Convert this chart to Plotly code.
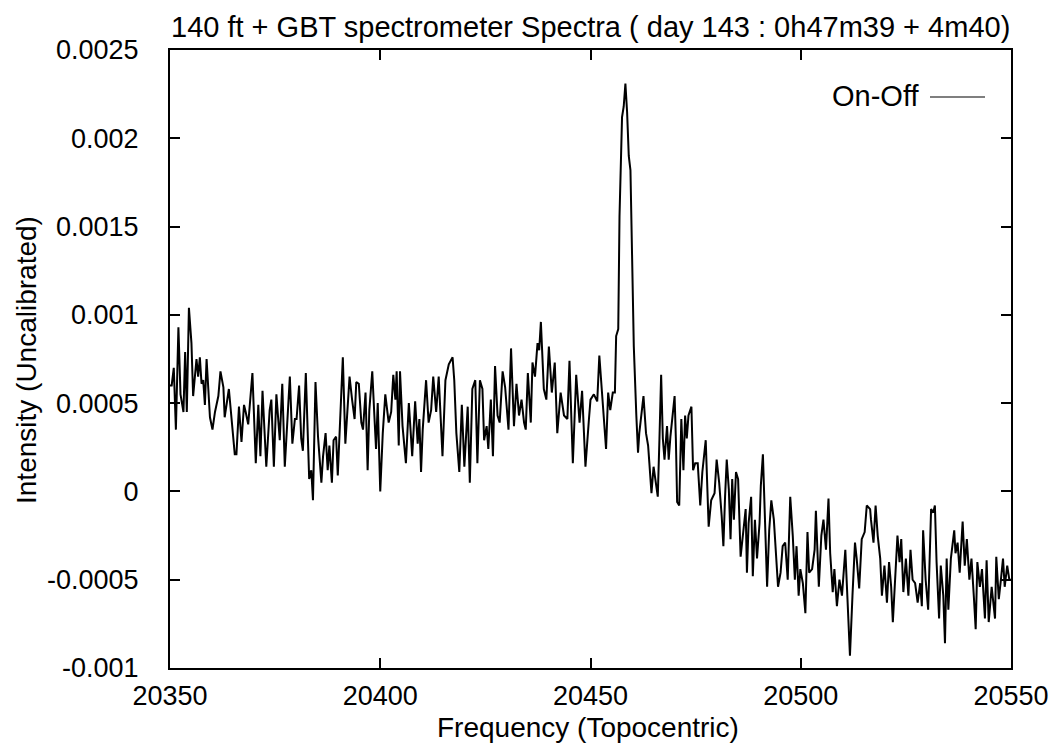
import plotly.graph_objects as go

# Channel frequencies (MHz, topocentric) and On-Off intensity (units of 1e-4)
frequency_mhz = [
    20350.0, 20350.4, 20350.9, 20351.4, 20352.0, 20352.5, 20353.2, 20353.6, 20354.0, 20354.5,
    20355.1, 20355.5, 20356.3, 20356.7, 20357.1, 20357.5, 20357.9, 20358.3, 20358.7, 20359.5,
    20360.1, 20360.7, 20361.5, 20362.0, 20362.7, 20363.0, 20364.0, 20364.6, 20365.4, 20365.8,
    20366.4, 20367.0, 20367.6, 20368.0, 20368.6, 20369.6, 20370.4, 20371.0, 20371.5, 20372.0,
    20372.9, 20373.7, 20374.1, 20374.7, 20375.3, 20376.1, 20376.7, 20377.3, 20378.5, 20379.1,
    20379.7, 20380.1, 20380.7, 20381.2, 20381.6, 20382.3, 20383.1,
    20383.6, 20384.0, 20384.6, 20385.2, 20386.0, 20386.4, 20387.0, 20387.5, 20387.9, 20388.5,
    20388.9, 20389.5, 20389.9, 20390.5, 20391.1, 20391.7, 20392.7, 20393.3, 20393.9, 20394.3,
    20394.9, 20395.5, 20395.9, 20396.5, 20397.0, 20397.4, 20398.1, 20398.6, 20399.0, 20399.4,
    20400.0, 20400.6, 20401.2, 20402.0, 20402.6, 20403.1, 20403.6, 20403.9, 20404.4, 20404.7,
    20405.3, 20406.1, 20406.8, 20407.6, 20408.3, 20408.9, 20409.3, 20409.7, 20410.1, 20410.9,
    20411.5, 20412.1, 20412.6, 20413.3, 20413.9, 20414.8, 20415.5, 20416.3,
    20417.2, 20417.6, 20418.1, 20418.8, 20419.4, 20420.0, 20420.8, 20421.3, 20421.9, 20422.6,
    20423.1, 20423.7, 20424.3, 20424.7, 20425.3, 20425.7, 20426.3, 20426.8, 20427.3, 20427.9,
    20428.4, 20429.1, 20429.7, 20430.5, 20431.1, 20431.8, 20432.4, 20433.0, 20433.6, 20434.2,
    20434.6, 20435.1, 20435.8, 20436.2, 20436.8, 20437.4, 20437.8, 20438.2, 20438.5, 20438.9,
    20439.5, 20440.1, 20440.8, 20441.5, 20442.1, 20442.9, 20443.7, 20444.5, 20445.0, 20445.8,
    20446.6, 20447.4, 20448.0, 20448.8, 20449.6,
    20450.0, 20450.8, 20451.6, 20452.1, 20452.6, 20453.2, 20453.7, 20454.2, 20454.7, 20455.3,
    20455.8, 20456.1, 20456.6,
    20456.9, 20457.5, 20457.9, 20458.3, 20458.7, 20459.1, 20459.5, 20459.9, 20460.3, 20460.9,
    20461.3,
    20461.6, 20462.3, 20462.6, 20463.2, 20463.7, 20464.0, 20464.5, 20465.0, 20465.4, 20466.0,
    20466.4, 20466.8, 20467.2, 20467.6, 20468.2, 20468.6, 20469.0, 20469.5, 20470.0, 20470.3,
    20470.6, 20471.1, 20471.6, 20472.1, 20472.5, 20472.9, 20473.3, 20474.0, 20474.4, 20474.9,
    20475.5, 20476.1, 20476.6, 20477.4, 20478.1, 20478.7, 20479.5, 20480.0, 20480.6, 20481.2,
    20481.6, 20482.0, 20482.4,
    20482.9, 20483.3, 20483.7, 20484.1, 20484.6, 20485.1, 20485.7, 20486.2, 20486.9, 20487.2,
    20487.6, 20488.2, 20488.6, 20489.1, 20489.6, 20490.2, 20490.5, 20491.0, 20491.4, 20492.0,
    20492.5, 20493.0, 20493.6, 20494.1, 20494.6, 20495.2, 20495.7, 20496.3, 20496.9, 20497.5,
    20498.1, 20498.6, 20499.0, 20499.5, 20499.9, 20500.5, 20501.1, 20501.6, 20502.0, 20502.7,
    20503.3, 20503.6, 20504.3, 20504.9, 20505.4, 20506.0, 20506.6, 20507.0, 20507.6, 20508.0,
    20508.6, 20509.2, 20509.8, 20510.6, 20511.2, 20511.7, 20512.3, 20512.9, 20513.3, 20513.9,
    20514.5, 20515.2, 20515.7, 20516.5,
    20516.7, 20517.3, 20517.8, 20518.3, 20518.9, 20519.3, 20519.9, 20520.5, 20521.0, 20521.5,
    20521.9, 20522.4, 20523.0, 20523.5, 20523.9, 20524.4, 20525.0, 20525.6, 20526.1, 20526.6,
    20527.2, 20527.8, 20528.4, 20528.8, 20529.1, 20529.7, 20530.3, 20531.0, 20531.5, 20531.9,
    20532.3, 20532.9, 20533.3, 20533.9, 20534.3, 20534.7, 20535.1, 20535.7, 20536.5, 20536.8,
    20537.3, 20537.8, 20538.5, 20539.0, 20539.5, 20540.1, 20540.6, 20541.2, 20541.6, 20542.0,
    20542.6, 20543.1, 20543.8, 20544.2, 20544.7, 20545.4, 20546.2, 20546.5, 20547.1, 20547.6,
    20548.1, 20548.5, 20549.1, 20549.6, 20550.0,
]

intensity_1e4 = [
    6.0, 6.0, 7.0, 3.5, 9.3, 5.5, 4.5, 7.9, 4.5, 10.4,
    8.4, 5.4, 7.5, 6.5, 7.6, 6.1, 6.3, 4.9, 7.5, 4.2,
    3.5, 4.5, 5.4, 6.8, 5.9, 4.2, 5.8, 4.1, 2.1, 2.1,
    4.8, 2.8, 4.9, 4.5, 3.8, 6.7, 1.6, 4.9, 2.0, 5.7,
    1.4, 4.6, 5.2, 1.4, 5.5, 2.9, 6.1, 1.4, 6.5, 2.7,
    4.1, 4.1, 6.0, 3.0, 2.3, 6.7, 0.7,
    1.2, -0.5, 6.2, 3.1, 0.5, 2.0, 3.3, 1.2, 2.6, 0.5,
    2.9, 3.1, 0.9, 4.5, 7.6, 2.7, 6.5, 5.2, 4.1, 6.2,
    6.1, 3.9, 3.5, 5.6, 1.2, 4.6, 6.8, 4.3, 2.4, 5.0,
    0.0, 3.3, 5.5, 3.9, 4.5, 6.6, 5.2, 6.8, 2.6, 6.8,
    3.7, 1.6, 5.0, 2.0, 5.1, 2.7, 4.1, 1.1, 3.5, 6.3,
    3.9, 4.6, 6.5, 4.5, 6.5, 2.0, 6.3, 7.2,
    7.6, 6.3, 3.3, 1.1, 4.9, 1.4, 4.8, 0.5, 5.8, 6.3,
    1.6, 6.3, 5.8, 2.9, 3.7, 2.4, 5.2, 2.0, 7.1, 4.3,
    3.9, 6.8, 5.9, 3.5, 8.1, 3.7, 6.1, 4.3, 5.2, 3.9,
    3.5, 6.7, 3.9, 7.3, 6.5, 8.4, 8.0, 9.6, 7.7, 5.8,
    5.2, 8.2, 5.6, 7.3, 3.3, 5.6, 4.3, 4.1, 7.4, 1.6,
    6.6, 3.9, 5.7, 1.4, 4.0,
    5.2, 5.5, 5.1, 7.7, 6.0, 4.3, 2.4, 5.6, 4.6, 5.6,
    5.6, 8.8, 9.2,
    15.6, 21.2, 21.8, 23.1, 21.5, 19.0, 18.2, 13.0, 8.2, 4.3,
    2.2,
    3.3, 4.8, 5.4, 3.3, 2.6, 1.6, -0.1, 1.4, 0.7, -0.3,
    3.0, 6.6, 3.0, 1.8, 3.7, 1.8, 3.1, 4.3, 5.4, 3.0,
    -0.6, -0.8, 4.1, 1.2, 4.3, 3.0, 4.3, 4.8, 1.2, 1.6,
    1.6, -0.8, 1.1, 2.9, -2.0, -0.5, -0.1, 1.8, 0.5, -1.4,
    -3.1, -0.3, 1.8,
    0.1, -2.7, 0.7, -1.6, 1.1, 0.7, -3.7, -2.7, -1.0, -4.6,
    -1.8, -0.3, -4.8, -1.6, -3.8, -1.8, 0.3, 2.1, -0.8, -5.4,
    -2.2, -0.5, -1.6, -3.8, -5.4, -4.6, -3.1, -2.9, -5.0, -0.3,
    -2.5, -5.0, -3.1, -5.9, -4.4, -5.2, -6.9, -2.3, -4.6, -4.4,
    -3.3, -1.1, -5.4, -2.5, -1.6, -3.3, -0.4, -3.5, -5.7, -4.4,
    -6.5, -5.0, -5.9, -3.3, -6.9, -9.3, -5.9, -2.9, -3.8, -5.5,
    -2.7, -2.3, -0.8, -1.0,
    -1.6, -2.9, -0.8, -2.5, -3.8, -5.9, -4.2, -6.3, -4.0, -5.4,
    -7.4, -4.8, -2.5, -4.0, -2.7, -5.7, -3.8, -5.9, -3.3, -5.0,
    -5.2, -6.3, -5.2, -6.5, -2.2, -5.0, -6.7, -1.0, -1.2, -0.8,
    -4.0, -7.2, -4.2, -5.9, -8.6, -3.8, -6.7, -3.8, -2.2, -3.5,
    -2.9, -4.6, -1.7, -4.2, -2.7, -5.0, -3.8, -6.1, -7.8, -4.0,
    -5.4, -4.4, -7.2, -3.9, -7.4, -5.4, -7.2, -3.7, -6.1, -5.0,
    -3.8, -5.4, -4.2, -5.0, -5.0,
]

x_tick_vals = [20350, 20400, 20450, 20500, 20550]
x_tick_text = ["20350", "20400", "20450", "20500", "20550"]
y_tick_vals = [0.0025, 0.002, 0.0015, 0.001, 0.0005, 0.0, -0.0005, -0.001]
y_tick_text = ["0.0025", "0.002", "0.0015", "0.001", "0.0005", "0", "-0.0005", "-0.001"]

title_text = "140 ft + GBT spectrometer Spectra ( day 143 : 0h47m39 + 4m40)"
x_title = "Frequency (Topocentric)"
y_title = "Intensity (Uncalibrated)"
series_name = "On-Off"

intensity = [v * 1e-4 for v in intensity_1e4]

FONT = "Liberation Sans, Arial, Helvetica, sans-serif"
FS_TICK = 27
FS_AXT = 28
FS_TITLE = 29

# page is rendered with an 8px body margin; work in page pixels and convert
OFF = 8
W, H = 1058 - OFF, 747 - OFF
pl, pr, pt, pb = 170, 1011, 50, 668          # plot area in page pixels
ml, mt = pl - OFF, pt - OFF
pw, ph = pr - pl, pb - pt
mr, mb = W - ml - pw, H - mt - ph


def px_x(p):
    return (p - pl) / pw


def px_y(p):
    return (pb - p) / ph


fig = go.Figure()
fig.add_trace(go.Scatter(
    x=frequency_mhz, y=intensity, mode="lines", name=series_name,
    line=dict(color="black", width=2.0), showlegend=False,
))

axis_common = dict(
    showgrid=False, zeroline=False, showline=True, linecolor="black", linewidth=2,
    mirror="allticks", ticks="inside", ticklen=10, tickwidth=2, tickcolor="black",
    tickfont=dict(family=FONT, size=FS_TICK, color="black"),
)

fig.update_layout(
    width=W, height=H,
    margin=dict(l=ml, r=mr, t=mt, b=mb, autoexpand=False),
    plot_bgcolor="white", paper_bgcolor="white",
    font=dict(family=FONT, size=FS_TICK, color="black"),
    xaxis=dict(range=[20350, 20550], tickvals=x_tick_vals, ticktext=x_tick_text,
               ticklabelstandoff=3, **axis_common),
    yaxis=dict(range=[-0.001, 0.0025], tickvals=y_tick_vals, ticktext=y_tick_text,
               ticklabelstandoff=24, **axis_common),
    annotations=[
        dict(text=title_text, x=px_x(590), y=px_y(OFF + 1), xref="paper", yref="paper",
             showarrow=False, xanchor="center", yanchor="top",
             font=dict(family=FONT, size=FS_TITLE, color="black")),
        dict(text=x_title, x=px_x(588), y=px_y(727), xref="paper", yref="paper",
             showarrow=False, xanchor="center", yanchor="middle",
             font=dict(family=FONT, size=FS_AXT, color="black")),
        dict(text=y_title, x=px_x(27), y=px_y(360), xref="paper", yref="paper",
             showarrow=False, xanchor="center", yanchor="middle", textangle=-90,
             font=dict(family=FONT, size=FS_AXT, color="black")),
        dict(text=series_name, x=px_x(921), y=px_y(96), xref="paper", yref="paper",
             showarrow=False, xanchor="right", yanchor="middle",
             font=dict(family=FONT, size=FS_TITLE, color="black")),
    ],
    shapes=[
        dict(type="line", xref="paper", yref="paper",
             x0=px_x(930), x1=px_x(985), y0=px_y(97), y1=px_y(97),
             line=dict(color="black", width=1.2)),
    ],
)

fig.write_html("out.html")
